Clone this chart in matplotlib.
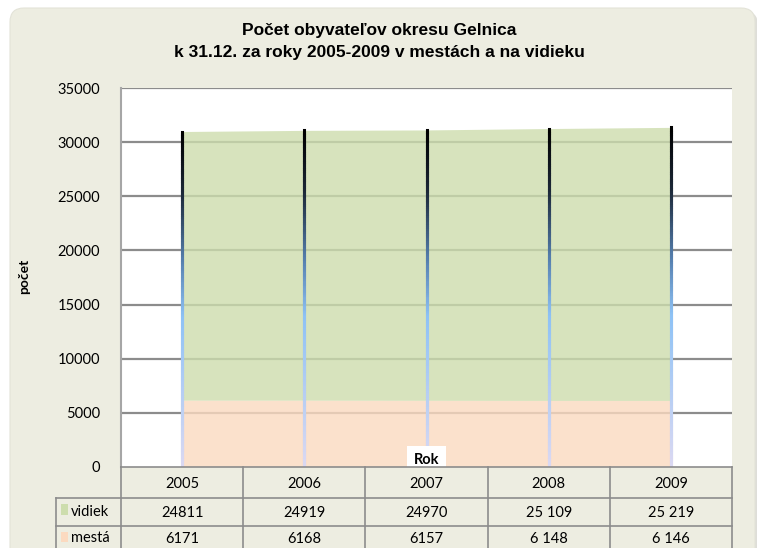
import matplotlib
matplotlib.use("Agg")
import matplotlib.pyplot as plt
import numpy as np
from matplotlib.patches import FancyBboxPatch, Rectangle
from matplotlib.collections import LineCollection
from matplotlib.colors import LinearSegmentedColormap

# data
roky = ["2005", "2006", "2007", "2008", "2009"]
vidiek = [24811, 24919, 24970, 25109, 25219]
mesta = [6171, 6168, 6157, 6148, 6146]
vidiek_txt = ["24811", "24919", "24970", "25 109", "25 219"]
mesta_txt = ["6171", "6168", "6157", "6 148", "6 146"]
y_ticks = [0, 5000, 10000, 15000, 20000, 25000, 30000, 35000]

W, H = 757, 548
beige = "#EDEDE1"
green = "#CDDDAD"
peach = "#FBDAC0"
grid_c = "#8C8C8C"
tick_font = "Lato"
fs = 10.5

fig = plt.figure(figsize=(W / 100, H / 100), dpi=100)
fig.patch.set_facecolor("white")

# background panel in pixel coords
bg = fig.add_axes([0, 0, 1, 1], zorder=0)
bg.set_xlim(0, W)
bg.set_ylim(H, 0)
bg.axis("off")
bg.add_patch(FancyBboxPatch((13, 11), 745, 560, boxstyle="round,pad=0,rounding_size=14",
                            fc="#C9C9BE", ec="none", alpha=0.6))
bg.add_patch(FancyBboxPatch((10, 8), 745, 560, boxstyle="round,pad=0,rounding_size=14",
                            fc=beige, ec="#E3E3D8", lw=0.8))

bg.text(379, 31, "Počet obyvateľov okresu Gelnica", ha="center", va="center",
        fontsize=12.5, fontweight="bold", family="Liberation Sans")
bg.text(379, 53, "k 31.12. za roky 2005-2009 v mestách a na vidieku", ha="center", va="center",
        fontsize=12.5, fontweight="bold", family="Liberation Sans")
bg.text(24, 276, "počet", rotation=90, ha="center", va="center",
        fontsize=10, fontweight="bold", family=tick_font)

# main plot
L, R, T, B = 121, 732, 88, 467
ax = fig.add_axes([L / W, 1 - B / H, (R - L) / W, (B - T) / H], zorder=1)
ax.set_facecolor("white")
x = np.arange(len(roky))
ax.set_xlim(-0.5, len(roky) - 0.5)
ax.set_ylim(0, 35000)

m = np.array(mesta)
v = np.array(vidiek)
a = 0.8
ax.fill_between(x, 0, m, color=peach, alpha=a, lw=0, zorder=2)
ax.fill_between(x, m, m + v, color=green, alpha=a, lw=0, zorder=2)

for yt in y_ticks[1:]:
    ax.axhline(yt, color=grid_c, lw=1.6, zorder=1)

# drop lines with a gradient
cmap = LinearSegmentedColormap.from_list(
    "drop", [(0, "#DCD9F2"), (0.45, "#8EC2F5"), (0.62, "#557FAE"),
             (0.82, "#1C2838"), (1, "#000000")])
for xi, top in zip(x, m + v):
    ys = np.linspace(0, top, 150)
    segs = [[(xi, ys[i]), (xi, ys[i + 1])] for i in range(len(ys) - 1)]
    lc = LineCollection(segs, colors=cmap(ys[:-1] / top), lw=2.2, zorder=3,
                        capstyle="projecting")
    ax.add_collection(lc)

ax.set_yticks(y_ticks)
ax.set_yticklabels([str(t) for t in y_ticks], family=tick_font, fontsize=fs)
ax.tick_params(axis="y", length=0, pad=15)
ax.set_xticks([])
for s in ["top", "right", "bottom"]:
    ax.spines[s].set_visible(False)
ax.spines["left"].set_color("#A6A6A6")
ax.spines["left"].set_linewidth(1.5)

ax.text(0.5, 0.0, "Rok", transform=ax.transAxes, ha="center", va="bottom",
        fontsize=fs, fontweight="bold", family=tick_font, zorder=5,
        bbox=dict(fc="white", ec="none", boxstyle="square,pad=0.45"))

# data table under the plot
tb = fig.add_axes([0, 0, 1, 1], zorder=2)
tb.set_xlim(0, W)
tb.set_ylim(H, 0)
tb.axis("off")
col_w = (R - L) / len(roky)
rows = [B, 498, 526, 556]
lab_l = 56
lc_ = "#8C8C8C"
tb.add_patch(Rectangle((L, rows[0]), R - L, rows[3] - rows[0], fc=beige, ec="none"))
tb.add_patch(Rectangle((lab_l, rows[1]), L - lab_l, rows[3] - rows[1], fc=beige, ec="none"))
for yy in rows[:3]:
    tb.plot([lab_l if yy != rows[0] else L, R], [yy, yy], color=lc_, lw=1.2)
for i in range(len(roky) + 1):
    tb.plot([L + i * col_w] * 2, [rows[0], rows[3]], color=lc_, lw=1.2)
tb.plot([lab_l, lab_l], [rows[1], rows[3]], color=lc_, lw=1.2)

for i, r in enumerate(roky):
    cx = L + (i + 0.5) * col_w
    tb.text(cx, (rows[0] + rows[1]) / 2 + 1, r, ha="center", va="center",
            fontsize=fs, family=tick_font)
    tb.text(cx, (rows[1] + rows[2]) / 2 + 1, vidiek_txt[i], ha="center", va="center",
            fontsize=fs, family=tick_font)
    tb.text(cx, (rows[2] + rows[3]) / 2 - 2, mesta_txt[i], ha="center", va="center",
            fontsize=fs, family=tick_font)

for (name, col, y0) in [("vidiek", green, rows[1]), ("mestá", peach, rows[2])]:
    tb.add_patch(Rectangle((lab_l + 5, y0 + 6), 7, 11 if name == "vidiek" else 10,
                           fc=col, ec="none"))
    tb.text(lab_l + 15, y0 + 14 if name == "vidiek" else y0 + 12, name, ha="left",
            va="center", fontsize=fs, family=tick_font)

fig.savefig("out.png", dpi=100)
